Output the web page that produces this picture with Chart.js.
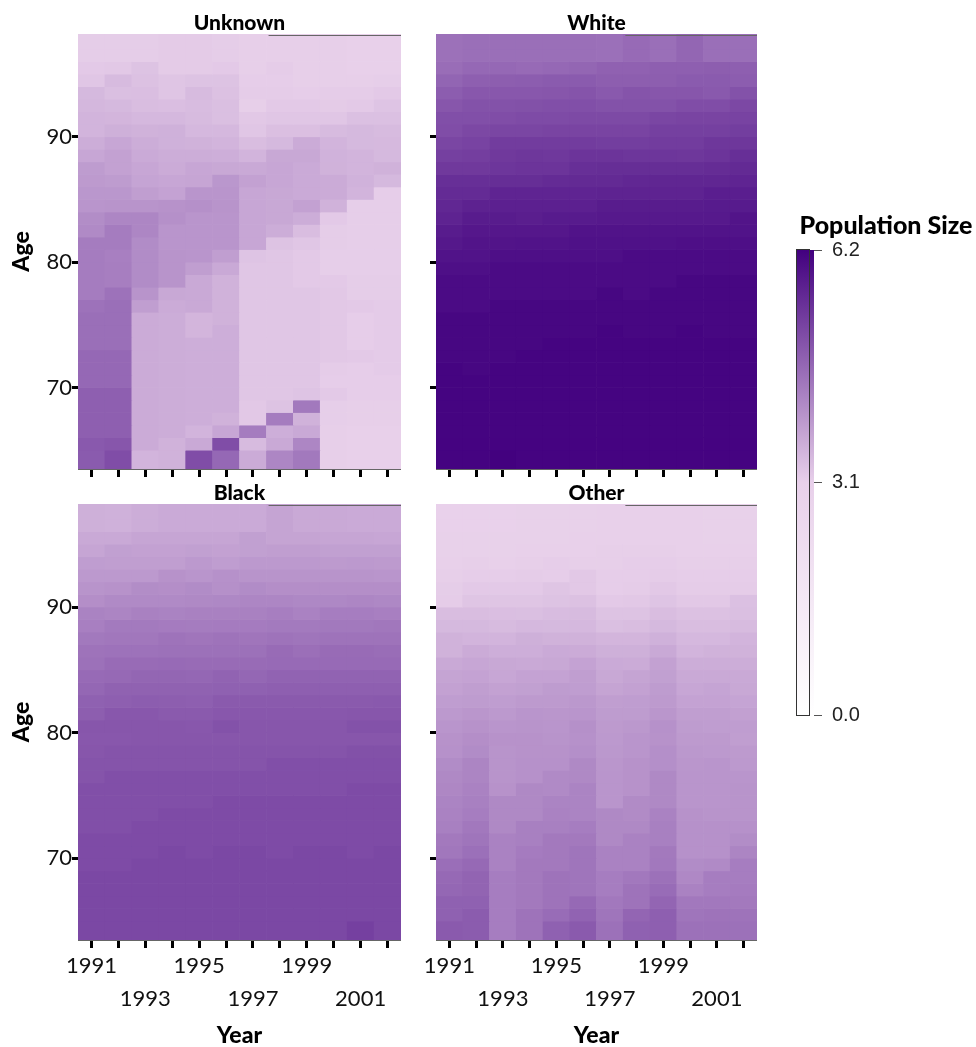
<!DOCTYPE html>
<html>
<head>
<meta charset="utf-8">
<title>Population Size by Age and Year</title>
<script src="https://cdn.jsdelivr.net/npm/chart.js@4"></script>
<style>
  html, body { margin: 0; padding: 0; background: #fff; }
  #page { position: relative; width: 976px; height: 1047px; overflow: hidden; }
  canvas { position: absolute; display: block; }
</style>
</head>
<body>
<div id="page">
  <canvas id="panelUnknown"></canvas>
  <canvas id="panelWhite"></canvas>
  <canvas id="panelBlack"></canvas>
  <canvas id="panelOther"></canvas>
  <canvas id="legendBar"></canvas>
</div>
<script>
/* ── DATA ─────────────────────────────────────────────────
   Values. One row per age band,
   oldest first, one column per year.
──────────────────────────────────────────────────────────── */
const years = ['1991','1992','1993','1994','1995','1996','1997','1998','1999','2000','2001','2002'];
const ages = [97,96,95,94,93,92,91,90,89,88,87,86,85,84,83,82,81,80,79,78,77,76,75,74,73,72,71,70,69,68,67,66,65,64];
const legendTicks = [0, 3.1, 6.2];

const unknownValues = [
  [3.15,3.15,3.15,3.18,3.18,3.15,3.12,3.12,3.12,3.12,3.10,3.10],
  [3.15,3.15,3.15,3.18,3.18,3.15,3.12,3.12,3.12,3.12,3.10,3.10],
  [3.20,3.22,3.30,3.18,3.18,3.20,3.12,3.16,3.12,3.12,3.10,3.10],
  [3.25,3.42,3.32,3.27,3.30,3.30,3.14,3.14,3.12,3.12,3.12,3.13],
  [3.45,3.36,3.37,3.26,3.42,3.32,3.16,3.16,3.14,3.16,3.16,3.20],
  [3.47,3.45,3.38,3.37,3.40,3.36,3.12,3.20,3.20,3.18,3.20,3.28],
  [3.52,3.50,3.46,3.46,3.42,3.36,3.22,3.25,3.25,3.25,3.34,3.34],
  [3.52,3.58,3.55,3.56,3.46,3.46,3.25,3.35,3.35,3.42,3.45,3.42],
  [3.62,3.72,3.62,3.56,3.55,3.52,3.38,3.45,3.65,3.52,3.45,3.44],
  [3.72,3.80,3.66,3.62,3.62,3.60,3.52,3.70,3.70,3.54,3.52,3.45],
  [3.88,3.80,3.72,3.65,3.72,3.70,3.68,3.72,3.66,3.55,3.52,3.55],
  [3.90,3.88,3.75,3.72,3.74,3.95,3.80,3.72,3.66,3.65,3.54,3.45],
  [3.95,3.95,3.85,3.78,3.98,3.98,3.72,3.70,3.66,3.65,3.52,3.14],
  [3.98,4.00,4.00,4.02,4.05,4.00,3.72,3.70,3.80,3.55,3.13,3.13],
  [4.10,4.20,4.20,4.05,3.98,3.98,3.72,3.70,3.62,3.20,3.13,3.13],
  [4.15,4.35,4.20,3.98,3.98,3.98,3.72,3.62,3.38,3.15,3.13,3.13],
  [4.35,4.35,4.12,3.98,3.98,3.98,3.72,3.30,3.25,3.15,3.13,3.13],
  [4.35,4.30,4.12,4.00,3.98,3.85,3.28,3.25,3.20,3.13,3.13,3.13],
  [4.35,4.32,4.12,4.00,3.85,3.68,3.25,3.25,3.20,3.13,3.13,3.13],
  [4.35,4.32,4.12,4.00,3.68,3.55,3.25,3.25,3.20,3.20,3.15,3.15],
  [4.35,4.50,4.00,3.70,3.68,3.55,3.25,3.25,3.25,3.22,3.15,3.15],
  [4.50,4.55,3.85,3.65,3.68,3.55,3.25,3.25,3.25,3.22,3.20,3.17],
  [4.55,4.55,3.65,3.62,3.50,3.55,3.25,3.25,3.25,3.22,3.14,3.17],
  [4.55,4.55,3.65,3.62,3.50,3.60,3.25,3.25,3.25,3.22,3.14,3.17],
  [4.55,4.55,3.65,3.62,3.60,3.60,3.25,3.25,3.25,3.22,3.14,3.17],
  [4.65,4.65,3.65,3.62,3.60,3.60,3.25,3.25,3.25,3.22,3.20,3.17],
  [4.65,4.65,3.65,3.62,3.60,3.60,3.25,3.25,3.25,3.16,3.14,3.17],
  [4.65,4.65,3.65,3.62,3.60,3.60,3.25,3.25,3.25,3.14,3.14,3.14],
  [4.79,4.79,3.65,3.62,3.60,3.60,3.25,3.25,3.28,3.20,3.14,3.14],
  [4.79,4.79,3.65,3.62,3.60,3.60,3.22,3.30,4.40,3.13,3.12,3.12],
  [4.79,4.79,3.65,3.62,3.60,3.55,3.22,4.35,3.55,3.13,3.12,3.12],
  [4.79,4.79,3.65,3.62,3.52,3.72,4.35,3.60,3.68,3.12,3.10,3.10],
  [4.88,4.92,3.65,3.55,3.68,5.05,3.42,3.68,4.20,3.12,3.10,3.10],
  [4.85,5.05,3.52,3.55,5.05,4.65,3.65,4.20,4.40,3.12,3.10,3.10],
];

const whiteValues = [
  [4.52,4.55,4.55,4.55,4.55,4.55,4.53,4.62,4.55,4.68,4.55,4.55],
  [4.52,4.55,4.55,4.55,4.55,4.55,4.53,4.62,4.55,4.68,4.55,4.55],
  [4.58,4.65,4.65,4.62,4.65,4.68,4.75,4.75,4.78,4.78,4.80,4.78],
  [4.70,4.78,4.80,4.82,4.85,4.85,4.80,4.80,4.80,4.85,4.85,4.82],
  [4.82,4.90,4.90,4.90,4.92,4.95,4.88,4.95,4.92,4.92,4.88,4.98],
  [4.92,4.98,4.98,5.00,5.02,5.02,4.98,4.98,4.98,5.05,5.05,5.12],
  [5.02,5.02,5.05,5.08,5.08,5.10,5.10,5.10,5.15,5.18,5.18,5.20],
  [5.05,5.12,5.15,5.15,5.18,5.18,5.18,5.18,5.25,5.25,5.25,5.28],
  [5.15,5.20,5.30,5.30,5.30,5.30,5.28,5.28,5.30,5.30,5.38,5.38],
  [5.25,5.27,5.35,5.38,5.36,5.42,5.42,5.40,5.40,5.38,5.42,5.50],
  [5.35,5.35,5.40,5.42,5.42,5.50,5.52,5.52,5.52,5.52,5.55,5.58],
  [5.50,5.50,5.52,5.52,5.56,5.58,5.58,5.62,5.64,5.64,5.64,5.66],
  [5.56,5.56,5.66,5.66,5.66,5.66,5.68,5.68,5.68,5.68,5.75,5.75],
  [5.62,5.70,5.72,5.72,5.72,5.72,5.78,5.78,5.78,5.78,5.80,5.80],
  [5.68,5.78,5.78,5.76,5.80,5.80,5.82,5.82,5.82,5.82,5.82,5.90],
  [5.78,5.85,5.85,5.85,5.85,5.92,5.92,5.92,5.92,5.92,5.92,5.92],
  [5.84,5.90,5.90,5.92,5.92,5.95,5.95,5.95,5.95,5.98,5.98,5.98],
  [5.92,5.92,5.97,5.97,5.97,5.97,5.97,6.04,6.04,6.04,6.04,6.04],
  [5.97,5.97,6.04,6.04,6.04,6.04,6.04,6.04,6.04,6.04,6.04,6.04],
  [6.04,6.04,6.04,6.04,6.04,6.04,6.04,6.04,6.04,6.10,6.10,6.10],
  [6.04,6.04,6.04,6.04,6.04,6.04,6.10,6.04,6.10,6.10,6.10,6.10],
  [6.04,6.04,6.10,6.10,6.10,6.10,6.10,6.10,6.10,6.10,6.10,6.10],
  [6.10,6.10,6.10,6.10,6.10,6.10,6.10,6.10,6.10,6.10,6.10,6.10],
  [6.10,6.10,6.10,6.10,6.10,6.10,6.14,6.10,6.10,6.14,6.10,6.10],
  [6.10,6.10,6.10,6.10,6.14,6.14,6.14,6.14,6.14,6.14,6.14,6.14],
  [6.10,6.10,6.10,6.14,6.14,6.14,6.14,6.14,6.14,6.14,6.14,6.14],
  [6.14,6.10,6.14,6.14,6.14,6.14,6.14,6.14,6.14,6.14,6.14,6.14],
  [6.14,6.14,6.14,6.14,6.14,6.14,6.14,6.14,6.14,6.14,6.14,6.14],
  [6.14,6.14,6.14,6.14,6.14,6.14,6.14,6.14,6.14,6.14,6.14,6.14],
  [6.14,6.14,6.14,6.14,6.14,6.14,6.14,6.14,6.14,6.14,6.14,6.14],
  [6.14,6.14,6.14,6.14,6.14,6.14,6.14,6.14,6.14,6.14,6.14,6.14],
  [6.14,6.14,6.14,6.14,6.14,6.14,6.14,6.14,6.14,6.14,6.14,6.14],
  [6.15,6.15,6.15,6.15,6.15,6.15,6.15,6.15,6.15,6.15,6.15,6.15],
  [6.15,6.15,6.19,6.15,6.15,6.15,6.15,6.15,6.15,6.15,6.15,6.15],
];

const blackValues = [
  [3.58,3.56,3.62,3.66,3.66,3.66,3.66,3.76,3.68,3.68,3.66,3.66],
  [3.58,3.56,3.62,3.66,3.66,3.66,3.66,3.76,3.68,3.68,3.66,3.66],
  [3.68,3.68,3.74,3.74,3.74,3.74,3.82,3.76,3.76,3.74,3.74,3.72],
  [3.74,3.82,3.80,3.80,3.82,3.80,3.82,3.84,3.84,3.82,3.82,3.82],
  [3.86,3.84,3.84,3.84,3.92,3.86,3.92,3.92,3.92,3.90,3.92,3.90],
  [3.92,3.92,3.92,4.02,3.98,4.04,4.00,4.00,4.00,4.00,4.00,3.98],
  [4.00,4.02,4.10,4.08,4.12,4.06,4.12,4.08,4.08,4.08,4.08,4.08],
  [4.08,4.15,4.15,4.15,4.16,4.18,4.20,4.20,4.18,4.18,4.20,4.18],
  [4.25,4.22,4.28,4.25,4.28,4.28,4.28,4.32,4.26,4.33,4.33,4.30],
  [4.30,4.38,4.38,4.36,4.35,4.36,4.36,4.38,4.38,4.40,4.40,4.42],
  [4.40,4.42,4.42,4.48,4.45,4.48,4.45,4.48,4.46,4.48,4.48,4.48],
  [4.48,4.50,4.50,4.52,4.52,4.52,4.52,4.60,4.54,4.60,4.60,4.58],
  [4.52,4.60,4.60,4.62,4.60,4.60,4.60,4.62,4.62,4.62,4.62,4.62],
  [4.62,4.64,4.68,4.68,4.66,4.72,4.66,4.72,4.72,4.72,4.72,4.72],
  [4.66,4.74,4.74,4.74,4.74,4.76,4.76,4.78,4.78,4.78,4.78,4.78],
  [4.76,4.78,4.82,4.80,4.78,4.86,4.86,4.86,4.86,4.86,4.86,4.88],
  [4.80,4.90,4.90,4.86,4.86,4.90,4.90,4.90,4.90,4.90,4.92,4.92],
  [4.92,4.92,4.92,4.92,4.90,4.98,4.92,4.92,4.92,4.92,4.98,4.98],
  [4.90,4.90,4.92,4.92,4.92,4.92,4.92,4.92,4.92,4.92,4.92,4.92],
  [4.92,4.95,4.95,4.95,4.95,4.95,4.95,4.95,4.95,4.95,5.00,5.00],
  [4.95,4.95,4.95,4.95,4.95,4.95,4.95,5.02,5.02,5.02,5.02,5.02],
  [4.95,5.02,5.02,5.02,5.02,5.02,5.02,5.02,5.02,5.02,5.02,5.02],
  [5.02,5.02,5.02,5.02,5.02,5.02,5.02,5.02,5.02,5.02,5.08,5.08],
  [5.02,5.02,5.02,5.02,5.02,5.08,5.08,5.08,5.08,5.08,5.08,5.08],
  [5.02,5.02,5.02,5.08,5.08,5.08,5.08,5.08,5.08,5.08,5.08,5.08],
  [5.02,5.02,5.08,5.08,5.08,5.08,5.08,5.08,5.08,5.08,5.08,5.08],
  [5.08,5.08,5.08,5.08,5.08,5.08,5.08,5.08,5.08,5.08,5.08,5.08],
  [5.08,5.08,5.08,5.13,5.08,5.13,5.13,5.08,5.13,5.13,5.08,5.13],
  [5.08,5.08,5.13,5.13,5.13,5.13,5.13,5.13,5.13,5.13,5.13,5.13],
  [5.13,5.13,5.13,5.13,5.13,5.13,5.13,5.13,5.13,5.13,5.13,5.13],
  [5.13,5.13,5.13,5.13,5.13,5.13,5.13,5.13,5.13,5.13,5.13,5.13],
  [5.13,5.13,5.13,5.13,5.13,5.13,5.13,5.13,5.13,5.13,5.13,5.13],
  [5.13,5.13,5.13,5.13,5.13,5.13,5.13,5.13,5.13,5.13,5.13,5.13],
  [5.13,5.13,5.13,5.13,5.13,5.13,5.13,5.13,5.13,5.13,5.24,5.13],
];

const otherValues = [
  [3.02,3.02,3.02,3.06,3.06,3.06,3.08,3.08,3.08,3.08,3.04,3.04],
  [3.02,3.02,3.02,3.06,3.06,3.06,3.08,3.08,3.08,3.08,3.04,3.04],
  [3.04,3.04,3.06,3.06,3.06,3.08,3.10,3.10,3.10,3.08,3.05,3.05],
  [3.06,3.06,3.06,3.08,3.10,3.10,3.12,3.12,3.12,3.10,3.08,3.08],
  [3.10,3.12,3.10,3.12,3.14,3.12,3.12,3.14,3.14,3.12,3.12,3.12],
  [3.12,3.14,3.14,3.16,3.14,3.22,3.14,3.14,3.16,3.14,3.14,3.14],
  [3.15,3.20,3.20,3.20,3.26,3.22,3.14,3.16,3.22,3.16,3.16,3.16],
  [3.16,3.26,3.27,3.26,3.30,3.32,3.20,3.22,3.28,3.22,3.22,3.34],
  [3.38,3.38,3.37,3.36,3.40,3.42,3.30,3.30,3.38,3.32,3.33,3.36],
  [3.45,3.45,3.42,3.46,3.45,3.46,3.36,3.38,3.45,3.38,3.38,3.42],
  [3.55,3.52,3.52,3.58,3.55,3.55,3.50,3.50,3.56,3.46,3.46,3.52],
  [3.55,3.65,3.60,3.60,3.66,3.65,3.58,3.58,3.68,3.52,3.55,3.55],
  [3.68,3.72,3.70,3.68,3.70,3.78,3.66,3.65,3.80,3.62,3.62,3.62],
  [3.76,3.78,3.72,3.78,3.78,3.84,3.70,3.76,3.82,3.68,3.68,3.68],
  [3.80,3.84,3.80,3.82,3.88,3.86,3.76,3.80,3.88,3.72,3.75,3.70],
  [3.86,3.88,3.86,3.90,3.90,3.94,3.84,3.86,3.90,3.78,3.78,3.75],
  [3.92,3.96,3.92,3.98,3.96,3.98,3.88,3.88,3.96,3.84,3.84,3.81],
  [3.98,4.02,3.98,4.00,3.98,4.06,3.90,3.94,4.04,3.88,3.86,3.86],
  [4.02,4.08,4.02,4.02,4.00,4.04,3.92,3.98,4.02,3.90,3.90,3.84],
  [4.04,4.12,4.00,4.02,4.02,4.07,3.94,3.98,4.07,3.94,3.92,3.90],
  [4.12,4.22,4.00,4.04,4.04,4.16,3.96,4.02,4.07,3.96,3.98,3.92],
  [4.16,4.22,4.00,4.04,4.14,4.16,3.98,4.02,4.16,3.98,3.98,3.98],
  [4.19,4.26,4.02,4.16,4.14,4.23,3.98,4.02,4.16,3.98,3.98,4.00],
  [4.23,4.29,4.16,4.16,4.23,4.23,3.98,4.13,4.16,3.98,3.98,4.00],
  [4.26,4.33,4.16,4.16,4.26,4.23,4.16,4.13,4.26,4.02,4.00,4.00],
  [4.29,4.41,4.16,4.29,4.29,4.33,4.16,4.16,4.29,4.04,4.04,4.04],
  [4.39,4.46,4.26,4.29,4.39,4.39,4.16,4.26,4.29,4.04,4.04,4.10],
  [4.43,4.53,4.26,4.36,4.39,4.46,4.26,4.26,4.39,4.04,4.04,4.22],
  [4.56,4.63,4.26,4.39,4.39,4.46,4.26,4.26,4.41,4.12,4.14,4.33],
  [4.63,4.71,4.33,4.39,4.49,4.46,4.33,4.41,4.51,4.17,4.33,4.33],
  [4.66,4.71,4.33,4.39,4.49,4.46,4.33,4.49,4.59,4.26,4.33,4.36],
  [4.76,4.76,4.33,4.39,4.49,4.63,4.41,4.49,4.69,4.41,4.41,4.39],
  [4.76,4.83,4.33,4.49,4.59,4.73,4.46,4.69,4.79,4.46,4.49,4.49],
  [4.86,4.83,4.33,4.49,4.76,4.86,4.51,4.76,4.79,4.51,4.51,4.51],
];

/* ── COLOUR SCALE ─────────────────────────────────────────
   white → pale lilac at the midpoint → deep purple
──────────────────────────────────────────────────────────── */
const scaleMax = 6.2;
const lowColor = [255, 255, 255];
const midColor = [232, 208, 234];
const highColor = [66, 0, 127];

function mix(a, b, t) {
    return a.map((c, i) => Math.round(c + (b[i] - c) * t));
}

function colorFor(v) {
    const half = scaleMax / 2;
    const rgb = v < half ? mix(lowColor, midColor, v / half) : mix(midColor, highColor, (v - half) / half);
    return `rgb(${rgb.join(',')})`;
}

/* ── PANELS ───────────────────────────────────────────────
   Each panel is a bar chart of floating bars, one dataset
   per age band, so the cells come from Chart.js scales.
──────────────────────────────────────────────────────────── */
const yMin = 63.5;
const yMax = 98.2;
const tickFont = { family: 'Lato', size: 22 };
const titleFont = { family: 'Lato', size: 21, weight: '900', lineHeight: 1 };
const axisTitleFont = { family: 'Lato', size: 23, weight: '900', lineHeight: 1 };

function buildDatasets(values) {
    return ages.map((age, r) => ({
        label: String(age),
        data: years.map(() => [age === 64 ? yMin : age, age === 97 ? yMax : age + 1]),
        backgroundColor: values[r].map(colorFor),
        borderWidth: 0,
        barPercentage: 1,
        categoryPercentage: 1,
        grouped: false,
    }));
}

function xTickLabel(index) {
    const year = Number(years[index]);
    if (year % 2 === 0) return '';
    // Odd years alternate between two lines
    return (year - 1991) % 4 === 0 ? years[index] : ['', years[index]];
}

// thin dark line along the right part of each panel's top edge
const topEdge = {
    id: 'topEdge',
    afterDatasetsDraw(chart) {
        const { ctx, chartArea } = chart;
        ctx.save();
        ctx.strokeStyle = '#666';
        ctx.lineWidth = 1;
        ctx.beginPath();
        ctx.moveTo(chartArea.left + chartArea.width * 0.59, chartArea.top + 1.5);
        ctx.lineTo(chartArea.right, chartArea.top + 1.5);
        ctx.stroke();
        ctx.restore();
    },
};

function makePanel(id, title, values, box, showYLabels, showXLabels) {
    const canvas = document.getElementById(id);
    canvas.width = box.width;
    canvas.height = box.height;
    canvas.style.left = box.left + 'px';
    canvas.style.top = box.top + 'px';

    new Chart(canvas, {
        type: 'bar',
        data: { labels: years, datasets: buildDatasets(values) },
        options: {
            responsive: false,
            animation: false,
            layout: { padding: 0 },
            plugins: {
                legend: { display: false },
                tooltip: { enabled: false },
                title: {
                    display: true,
                    fullSize: false,
                    text: title,
                    color: '#000',
                    font: titleFont,
                    padding: { top: 9, bottom: 0 },
                },
            },
            scales: {
                x: {
                    grid: { drawOnChartArea: false, offset: false, tickLength: 8, tickWidth: 3, tickColor: '#000' },
                    border: { display: true, color: '#666', width: 1 },
                    ticks: {
                        display: showXLabels,
                        autoSkip: false,
                        maxRotation: 0,
                        color: '#111',
                        font: { ...tickFont, lineHeight: 1.5 },
                        padding: 1,
                        callback: (v, i) => xTickLabel(i),
                    },
                    title: {
                        display: showXLabels,
                        text: 'Year',
                        color: '#000',
                        font: axisTitleFont,
                        padding: { top: 0, bottom: 0 },
                    },
                    afterFit: s => {
                        s.height = box.xHeight;
                        s.paddingLeft = 0;
                        s.paddingRight = 0;
                    },
                },
                y: {
                    min: yMin,
                    max: yMax,
                    grid: { drawOnChartArea: false, tickLength: 6, tickWidth: 3, tickColor: '#000' },
                    border: { display: false },
                    ticks: {
                        display: showYLabels,
                        includeBounds: false,
                        stepSize: 10,
                        color: '#111',
                        font: tickFont,
                        padding: 0,
                    },
                    title: {
                        display: showYLabels,
                        text: 'Age',
                        color: '#000',
                        font: axisTitleFont,
                        padding: { top: 10, bottom: 0 },
                    },
                    afterFit: s => {
                        s.width = box.yWidth;
                        s.paddingTop = 0;
                        s.paddingBottom = 0;
                    },
                },
            },
        },
        plugins: [topEdge],
    });
}

makePanel('panelUnknown', 'Unknown', unknownValues,
    { left: 0, top: 4, width: 401, height: 473, yWidth: 78, xHeight: 8 }, true, false);
makePanel('panelWhite', 'White', whiteValues,
    { left: 420, top: 4, width: 337, height: 473, yWidth: 16, xHeight: 8 }, false, false);
makePanel('panelBlack', 'Black', blackValues,
    { left: 0, top: 474, width: 401, height: 573, yWidth: 78, xHeight: 107 }, true, true);
makePanel('panelOther', 'Other', otherValues,
    { left: 420, top: 474, width: 337, height: 573, yWidth: 16, xHeight: 107 }, false, true);

/* ── COLOUR BAR ───────────────────────────────────────────── */
const legendOutline = {
    id: 'legendOutline',
    afterDatasetsDraw(chart) {
        const { ctx, chartArea } = chart;
        ctx.save();
        ctx.strokeStyle = '#333';
        ctx.lineWidth = 1;
        ctx.strokeRect(chartArea.left + 0.5, chartArea.top - 0.5, 13, chartArea.height + 1);
        ctx.restore();
    },
};

new Chart((() => {
    const c = document.getElementById('legendBar');
    c.width = 180;
    c.height = 538;
    c.style.left = '796px';
    c.style.top = '200px';
    return c;
})(), {
    type: 'bar',
    data: {
        labels: ['Population Size'],
        datasets: [{
            data: [[legendTicks[0], legendTicks[2]]],
            backgroundColor: ctx => {
                const { chart } = ctx;
                if (!chart.chartArea) return '#e8d0ea';
                const y = chart.scales.y;
                const g = chart.ctx.createLinearGradient(0, y.getPixelForValue(0), 0, y.getPixelForValue(scaleMax));
                g.addColorStop(0, colorFor(0));
                g.addColorStop(0.5, colorFor(scaleMax / 2));
                g.addColorStop(1, colorFor(scaleMax));
                return g;
            },
            borderWidth: 0,
            barPercentage: 1,
            categoryPercentage: 1,
        }],
    },
    options: {
        responsive: false,
        animation: false,
        layout: { padding: { bottom: 23 } },
        plugins: {
            legend: { display: false },
            tooltip: { enabled: false },
            title: {
                display: true,
                text: 'Population Size',
                color: '#000',
                font: { family: 'Lato', size: 25, weight: '900', lineHeight: 1 },
                padding: { top: 13, bottom: 12 },
            },
        },
        scales: {
            x: { display: false },
            y: {
                position: 'right',
                min: 0,
                max: scaleMax,
                afterBuildTicks: s => { s.ticks = legendTicks.map(value => ({ value })); },
                grid: { drawOnChartArea: false, tickLength: 8, tickWidth: 1, tickColor: '#555' },
                border: { display: false },
                ticks: {
                    color: '#222',
                    font: { family: 'Liberation Sans', size: 20 },
                    padding: 10,
                    callback: v => v.toFixed(1),
                },
                afterFit: s => { s.width = 162; },
            },
        },
    },
    plugins: [legendOutline],
});
</script>
</body>
</html>
